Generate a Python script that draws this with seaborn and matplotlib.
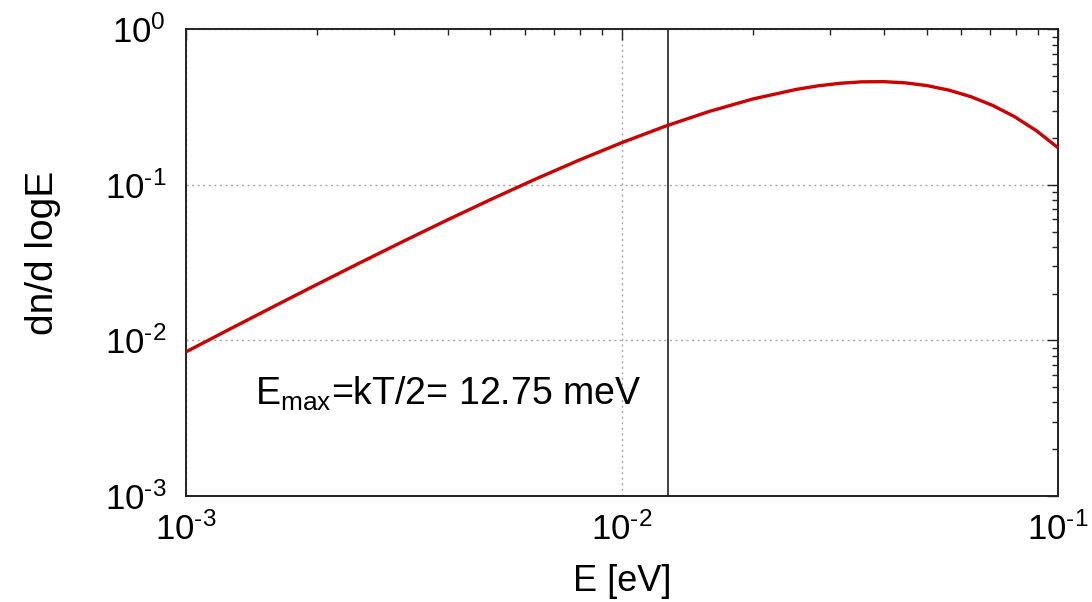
import numpy as np
import pandas as pd
import matplotlib
matplotlib.use("Agg")
import matplotlib.pyplot as plt
import seaborn as sns

# Data
energy_eV = [0.001, 0.0012589, 0.0015849, 0.0019953, 0.0025119, 0.0031623,
             0.0039811, 0.0050119, 0.0063096, 0.0079433, 0.01, 0.012589,
             0.015849, 0.019953, 0.025119, 0.028184, 0.031623, 0.035481,
             0.039811, 0.044668, 0.050119, 0.056234, 0.063096, 0.070795,
             0.079433, 0.089125, 0.1]
dn_dlogE = [0.00842, 0.01178, 0.01643, 0.02284, 0.03161, 0.04353,
            0.05955, 0.08078, 0.10844, 0.14367, 0.18721, 0.23891,
            0.29697, 0.35714, 0.41192, 0.43416, 0.45089, 0.46067,
            0.46195, 0.45386, 0.43553, 0.40726, 0.36990, 0.32507,
            0.27531, 0.22372, 0.17356]
e_max = 0.01275
x_ticks = [1e-3, 1e-2, 1e-1]
x_tick_labels = ["$10^{\u20103}$", "$10^{\u20102}$", "$10^{\u20101}$"]
y_ticks = [1e-3, 1e-2, 1e-1, 1e0]
y_tick_labels = ["$10^{\u20103}$", "$10^{\u20102}$", "$10^{\u20101}$", "$10^{0}$"]
annotation = "$E_{max}$=kT/2= 12.75 meV"

df = pd.DataFrame({"E": energy_eV, "f": dn_dlogE})

sns.set_style("white")
plt.rcParams["font.family"] = ["Liberation Sans", "DejaVu Sans"]
plt.rcParams["mathtext.fontset"] = "custom"
plt.rcParams["mathtext.rm"] = "Liberation Sans"
plt.rcParams["mathtext.it"] = "Liberation Sans"
plt.rcParams["mathtext.default"] = "regular"

fig = plt.figure(figsize=(10.92, 6.02), dpi=100)
ax = fig.add_axes([0.1699, 0.1761, 0.9689 - 0.1699, 0.951 - 0.1761])

ax.set_xscale("log")
ax.set_yscale("log")
ax.set_xlim(1e-3, 1e-1)
ax.set_ylim(1e-3, 1e0)

ax.grid(True, which="major", color="#a8a8a8", linestyle=(0, (1.5, 2.5)), linewidth=1.0)
ax.grid(False, which="minor")

sns.lineplot(data=df, x="E", y="f", ax=ax, color="#cc0000", linewidth=2.4, zorder=3)
ax.axvline(e_max, color="#222222", linewidth=1.2, zorder=2)

ax.set_xticks(x_ticks)
ax.set_xticklabels(x_tick_labels)
ax.set_yticks(y_ticks)
ax.set_yticklabels(y_tick_labels, va="center_baseline")

ax.tick_params(which="both", direction="in", top=True, right=True, colors="#222222",
               labelcolor="black")
ax.tick_params(which="major", length=8, width=1.0, labelsize=25, pad=12)
ax.tick_params(which="minor", length=4, width=1.0)
ax.tick_params(axis="y", which="major", pad=14)

for s in ax.spines.values():
    s.set_color("#222222")
    s.set_linewidth(1.4)

ax.set_xlabel("E [eV]", fontsize=26, color="black", va="center")
ax.xaxis.set_label_coords(0.5, -0.183)
ax.set_ylabel("dn/d logE", fontsize=28, color="black", va="center")
ax.yaxis.set_label_coords(-0.163, 0.521)

ax.text(0.001443, 0.00385, annotation, fontsize=27, color="black", zorder=4)

fig.savefig("out.png", dpi=100)
